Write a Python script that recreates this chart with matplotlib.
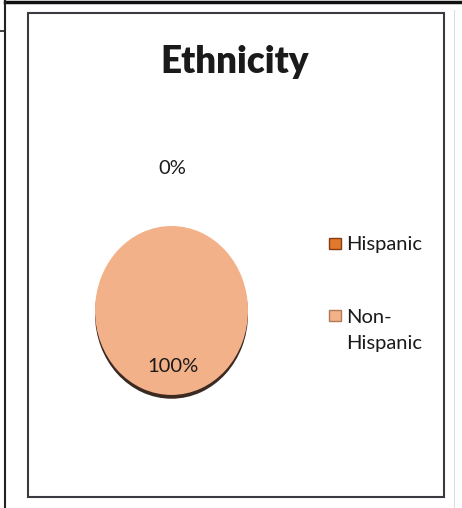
import matplotlib
matplotlib.use("Agg")
import matplotlib.pyplot as plt
from matplotlib.patches import Rectangle
from matplotlib.lines import Line2D

# ethnicity breakdown (percent)
labels = ["Hispanic", "Non-Hispanic"]
legend_labels = ["Hispanic", "Non-\nHispanic"]
values = [0, 100]
colors = ["#E0782E", "#F3B189"]
marker_edges = ["#8A3E10", "#B07A55"]

W, H = 462, 508
plt.rcParams["font.family"] = ["Lato", "DejaVu Sans"]


def fx(x):
    return x / W


def fy(y):
    return 1 - y / H


fig = plt.figure(figsize=(W / 100, H / 100), dpi=100)
fig.patch.set_facecolor("white")

# scanned page borders
fig.add_artist(Line2D([fx(5), 1], [fy(1.5), fy(1.5)], color="#111111", lw=2.5))
fig.add_artist(Line2D([fx(5), fx(5)], [0, 1], color="#222222", lw=1.5))
fig.add_artist(Line2D([0, fx(5)], [fy(31), fy(31)], color="#222222", lw=1.2))
fig.add_artist(Line2D([fx(454), fx(454)], [fy(10), fy(508)], color="#dddddd", lw=0.8))

# chart frame
fig.add_artist(Rectangle((fx(28), fy(497)), (444 - 28) / W, (497 - 13) / H,
                         transform=fig.transFigure, fill=False,
                         edgecolor="#3a3a40", lw=1.5))

fig.text(fx(235), fy(62), "Ethnicity", ha="center", va="center",
         fontsize=26.5, fontweight="heavy", color="#1a1a1a")

# pie, stretched into an ellipse
ax = fig.add_axes([fx(95), fy(400), (248 - 95) / W, (400 - 226) / H])
shadow = ax.pie(values, colors=["#3b2a22"] * 2, startangle=90, counterclock=False,
                center=(0, -0.045), wedgeprops=dict(linewidth=0))
wedges, _ = ax.pie(values, colors=colors, startangle=90, counterclock=False,
                   wedgeprops=dict(linewidth=0))
ax.set_aspect("auto")
ax.set_xlim(-1.0, 1.0)
ax.set_ylim(-1.06, 1.0)
ax.axis("off")

total = sum(values)
pct = ["{:.0f}%".format(100 * v / total) for v in values]
fig.text(fx(172), fy(168), pct[0], ha="center", va="center", fontsize=14.5, color="#1a1a1a")
fig.text(fx(173), fy(367), pct[1], ha="center", va="center", fontsize=14.5, color="#1a1a1a")

# legend (baseline given for the last line of each label)
rows = [243, 315]
baselines = [250, 349]
for lab, c, ec, y, b in zip(legend_labels, colors, marker_edges, rows, baselines):
    fig.add_artist(Rectangle((fx(329), fy(y + 5.5)), 12 / W, 11 / H,
                             transform=fig.transFigure, facecolor=c,
                             edgecolor=ec, lw=1.0))
    fig.text(fx(346), fy(b), lab, ha="left", va="baseline", fontsize=14.5,
             color="#1a1a1a", linespacing=1.65)

fig.savefig("out.png", dpi=100)
